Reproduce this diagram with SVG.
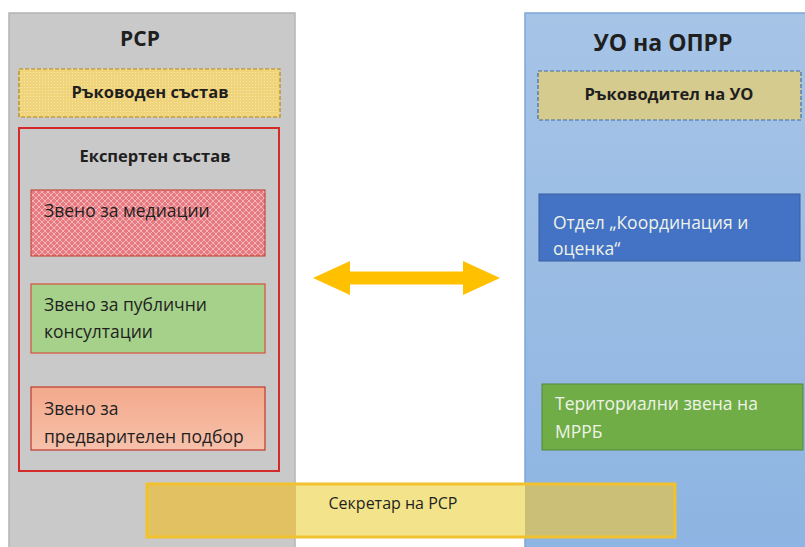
<svg xmlns="http://www.w3.org/2000/svg" width="805" height="547" viewBox="0 0 805 547">
<defs>
<style>
.t{font-family:"Open Sans","Noto Sans","Liberation Sans",sans-serif;fill:#1f1f1f;font-size:17.5px}
.b{font-weight:bold;font-size:16.5px}
.w{fill:#eef3e8}
</style>
<linearGradient id="gBlue" x1="0" y1="0" x2="0" y2="1"><stop offset="0" stop-color="#a6c4e6"/><stop offset="1" stop-color="#8db4e2"/></linearGradient>
<linearGradient id="gSalmon" x1="0" y1="0" x2="0" y2="1"><stop offset="0" stop-color="#f3a98c"/><stop offset="1" stop-color="#f6c1ab"/></linearGradient>
<pattern id="pX" width="6" height="6" patternUnits="userSpaceOnUse">
<rect width="6" height="6" fill="#e67a80"/>
<path d="M0,0L6,6M6,0L0,6" stroke="#f4b6b8" stroke-width="1"/>
</pattern>
<pattern id="pDot" width="3" height="3" patternUnits="userSpaceOnUse">
<rect width="3" height="3" fill="#f0d47c"/>
<rect width="1" height="1" fill="#f8e6a8"/>
</pattern>
</defs>
<rect width="805" height="547" fill="#ffffff"/>
<g id="panel-rsr">
<rect x="9" y="13" width="286" height="540" fill="#c9c9c9" stroke="#b4b4b4" stroke-width="1.5"/>
<text class="t b" x="140" y="46" style="font-size:21px" text-anchor="middle">РСР</text>
</g>
<g id="panel-uo">
<rect x="525" y="13" width="285" height="540" fill="url(#gBlue)" stroke="#7ea6d6" stroke-width="1.5"/>
<text class="t b" x="663" y="51" style="font-size:23px" text-anchor="middle">УО на ОПРР</text>
</g>
<g id="rakovoden">
<rect x="19" y="69" width="261" height="48" fill="url(#pDot)" stroke="#b8860b" stroke-width="1.2" stroke-dasharray="4,2"/>
<text class="t b" x="150" y="98" text-anchor="middle">Ръководен състав</text>
</g>
<g id="ekspert">
<rect x="19" y="128" width="260" height="343" fill="none" stroke="#d42a2a" stroke-width="2"/>
<text class="t b" x="155" y="162" text-anchor="middle">Експертен състав</text>
</g>
<g id="mediacii">
<rect x="31" y="190" width="234" height="66" fill="url(#pX)" stroke="#c0392b" stroke-width="1"/>
<text class="t" x="44" y="217">Звено за медиации</text>
</g>
<g id="publichni">
<rect x="31" y="284" width="234" height="69" fill="#a6d18a" stroke="#d8503c" stroke-width="1.2"/>
<text class="t" x="44" y="311">Звено за публични</text>
<text class="t" x="44" y="338">консултации</text>
</g>
<g id="podbor">
<rect x="31" y="387" width="234" height="63" fill="url(#gSalmon)" stroke="#c0392b" stroke-width="1.2"/>
<text class="t" x="44" y="415">Звено за</text>
<text class="t" x="44" y="443">предварителен подбор</text>
</g>
<g id="rakovoditel">
<rect x="538" y="71" width="263" height="49" fill="#d6cb8e" stroke="#3a6fa8" stroke-width="1.2" stroke-dasharray="4,2"/>
<text class="t b" x="669" y="100" text-anchor="middle">Ръководител на УО</text>
</g>
<g id="otdel">
<rect x="539" y="194" width="261" height="67" fill="#4472c4" stroke="#3a5f9e" stroke-width="1"/>
<text class="t w" x="553" y="229">Отдел „Координация и</text>
<text class="t w" x="553" y="255">оценка“</text>
</g>
<g id="teritorialni">
<rect x="542" y="384" width="261" height="66" fill="#70ad47" stroke="#52873a" stroke-width="1"/>
<text class="t w" x="555" y="410">Териториални звена на</text>
<text class="t w" x="555" y="438">МРРБ</text>
</g>
<g id="connectors">
<path d="M313,278 L350,261 L350,271.5 L463,271.5 L463,261 L500,278 L463,295 L463,284.5 L350,284.5 L350,295 Z" fill="#ffc000"/>
</g>
<g id="sekretar">
<rect x="147" y="484" width="149" height="53" fill="#e2c163"/>
<rect x="296" y="484" width="229" height="53" fill="#f3e38a"/>
<rect x="525" y="484" width="150" height="53" fill="#cbbf78"/>
<rect x="147" y="484" width="528" height="53" fill="none" stroke="#f2c12e" stroke-width="3"/>
<text class="t" x="393" y="509" style="font-size:16px" text-anchor="middle">Секретар на РСР</text>
</g>
</svg>
